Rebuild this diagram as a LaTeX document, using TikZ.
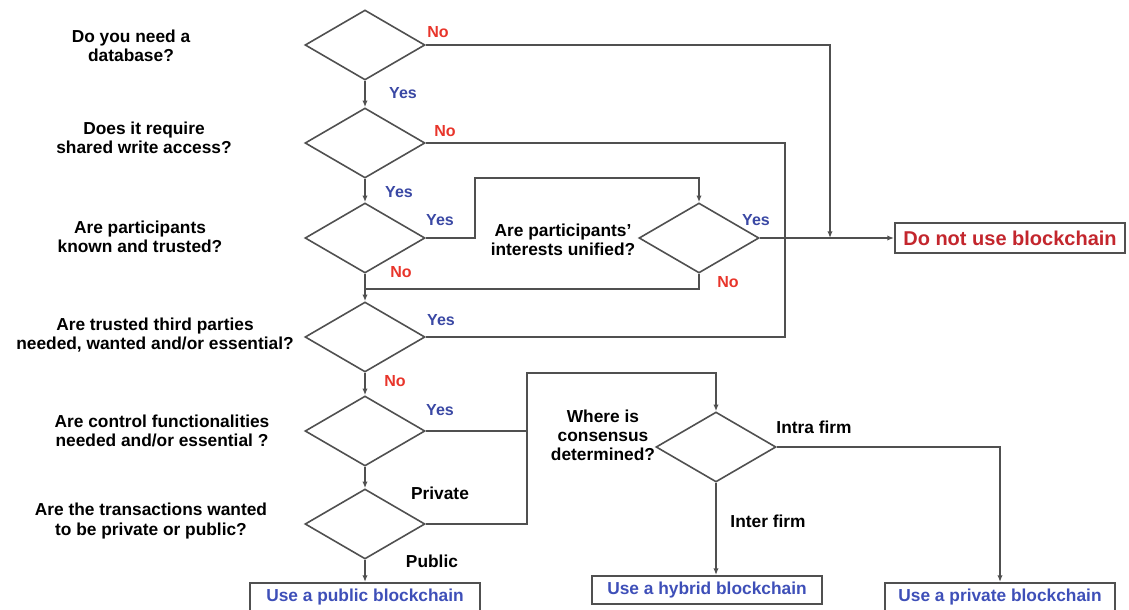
\documentclass[tikz,border=0pt]{standalone}
\usepackage{fontspec}
\setmainfont{Liberation Sans}
\usetikzlibrary{shapes.geometric,arrows.meta}
\definecolor{noRed}{HTML}{E8352B}
\definecolor{yesBlue}{HTML}{3A48A4}
\definecolor{useBlue}{HTML}{3E4FB8}
\definecolor{stopRed}{HTML}{C3262D}
\definecolor{lineGray}{HTML}{505050}
\begin{document}
\begin{tikzpicture}[x=0.75pt,y=-0.75pt,color=lineGray,line width=1pt,
  q/.style={diamond,draw,line width=1.2pt,minimum width=90pt,minimum height=52.5pt,inner sep=0pt},
  ask/.style={align=center,text=black,font=\bfseries\fontsize{13}{14.3}\selectfont},
  yes/.style={text=yesBlue,font=\bfseries\fontsize{12}{14}\selectfont},
  no/.style={text=noRed,font=\bfseries\fontsize{12}{14}\selectfont},
  pick/.style={text=black,font=\bfseries\fontsize{13}{14}\selectfont},
  use/.style={draw,line width=1.5pt,minimum width=172pt,minimum height=21pt,inner sep=0pt,text=useBlue,font=\bfseries\fontsize{13}{14}\selectfont},
  arr/.style={-{Latex[length=5pt,width=4pt]}}]
\useasboundingbox (0,0) rectangle (1129,610);
\node[q] (d1) at (365,45) {};
\node[q] (d2) at (365,143) {};
\node[q] (d3) at (365,238) {};
\node[q] (d4) at (365,337) {};
\node[q] (d5) at (365,431) {};
\node[q] (d6) at (365,524) {};
\node[q] (d7) at (699,238) {};
\node[q] (d8) at (716,447) {};
\node[ask] (t1) at (131,46) {Do you need a\\database?};
\node[ask] (t2) at (144,138) {Does it require\\shared write access?};
\node[ask] (t3) at (140,237) {Are participants\\known and trusted?};
\node[ask] (t4) at (155,335) {Are trusted third parties\\needed, wanted and/or essential?};
\node[ask] (t5) at (162,431) {Are control functionalities\\needed and/or essential ?};
\node[ask] (t6) at (151,521) {Are the transactions wanted\\to be private or public?};
\node[ask] (t7) at (563,240) {Are participants'\\interests unified?};
\node[ask] (t8) at (603,435) {Where is\\consensus\\determined?};
\node[use,minimum width=172.5pt,minimum height=22pt,text=stopRed,font=\bfseries\fontsize{15}{16}\selectfont] (stop) at (1010,238) {Do not use blockchain};
\node[use] (public) at (365,597) {Use a public blockchain};
\node[use] (hybrid) at (707,590) {Use a hybrid blockchain};
\node[use] (private) at (1000,597) {Use a private blockchain};
\coordinate (noDb) at (830,238);
\coordinate (tpJoin) at (785,337);
\coordinate (d7top) at (699,178);
\coordinate (merge) at (365,289);
\coordinate (d8top) at (716,373);
\draw[arr] (d1.south) -- (d2.north);
\draw[arr] (d2.south) -- (d3.north);
\draw[arr] (d3.south) -- (d4.north);
\draw[arr] (d4.south) -- (d5.north);
\draw[arr] (d5.south) -- (d6.north);
\draw[arr] (d6.south) -- (public.north);
\draw[arr] (d1.east) -| (noDb);
\draw (d2.east) -| (tpJoin) -- (d4.east);
\draw[arr] (d3.east) -- (475,238) |- (d7top) -- (d7.north);
\draw (d7.south) |- (merge);
\draw[arr] (d7.east) -- (stop.west);
\draw[arr] (d6.east) -- (527,524) |- (d8top) -- (d8.north);
\draw (d5.east) -- (527,431);
\draw[arr] (d8.east) -| (private.north);
\draw[arr] (d8.south) -- (d8.south |- hybrid.north);
\node[no] (n1) at (438,32) {No};
\node[yes] (y1) at (403,93) {Yes};
\node[no] (n2) at (445,131) {No};
\node[yes] (y2) at (399,192) {Yes};
\node[yes] (y3) at (440,220) {Yes};
\node[no] (n3) at (401,272) {No};
\node[yes] (y7) at (756,220) {Yes};
\node[no] (n7) at (728,282) {No};
\node[yes] (y4) at (441,320) {Yes};
\node[no] (n4) at (395,381) {No};
\node[yes] (y5) at (440,410) {Yes};
\node[pick] (p1) at (440,493) {Private};
\node[pick] (p2) at (432,561) {Public};
\node[pick] (p3) at (814,427) {Intra firm};
\node[pick] (p4) at (768,521) {Inter firm};
\end{tikzpicture}
\end{document}
